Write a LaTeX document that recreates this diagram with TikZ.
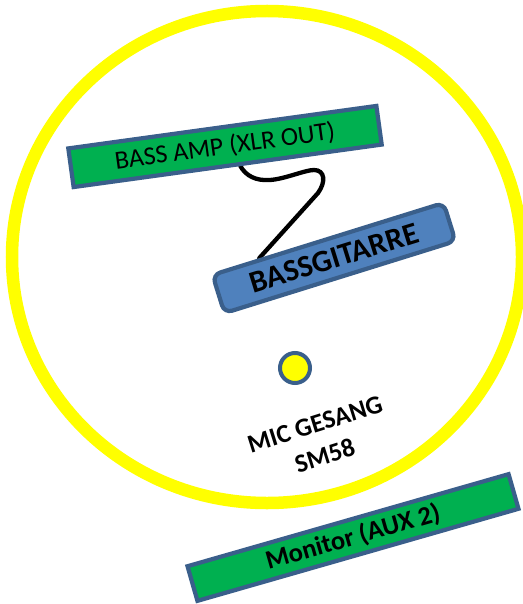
\documentclass[tikz,border=0pt]{standalone}
\usepackage{fontspec}
\setmainfont{Carlito}
\usetikzlibrary{calc,backgrounds}
\definecolor{ringyellow}{HTML}{FFFF00}
\definecolor{boxgreen}{HTML}{00B050}
\definecolor{boxblue}{HTML}{4F81BD}
\definecolor{edgeblue}{HTML}{3A5F8B}
\begin{document}
\begin{tikzpicture}[x=1pt,y=-1pt,
  ring/.style={draw=ringyellow,line width=12.5pt},
  greenbox/.style={draw=edgeblue,fill=boxgreen,line width=4.2pt,inner sep=0pt},
  bluebox/.style={draw=edgeblue,fill=boxblue,line width=4.2pt,rounded corners=8pt,inner sep=0pt},
  cable/.style={draw=black,line width=4.3pt,line cap=round},
  micdot/.style={circle,draw=edgeblue,fill=ringyellow,line width=4pt,minimum size=30pt,inner sep=0pt},
  lbl/.style={font=\fontsize{26}{33}\selectfont\bfseries,align=center}]
\useasboundingbox (0,0) rectangle (522,604);
\draw[ring] (267,257) ellipse [x radius=255, y radius=246];
\node[greenbox, minimum width=311pt, minimum height=39pt, rotate=7.85,
      font=\fontsize{26}{31}\selectfont] (amp) at (225,146.5) {BASS AMP (XLR OUT)};
\node[bluebox, minimum width=242pt, minimum height=40pt, rotate=17.3,
      font=\fontsize{31}{36}\selectfont\bfseries] (gtr) at (334,258) {BASSGITARRE};
\node[micdot] (mic) at (295,368) {};
\node[lbl, rotate=17.5] (miclbl) at (320,440) {MIC GESANG\\SM58};
\node[greenbox, minimum width=334pt, minimum height=36pt, rotate=16,
      font=\fontsize{26.5}{31}\selectfont\bfseries] (mon) at (353,537.5) {Monitor (AUX 2)};
\begin{scope}[on background layer]
\draw[cable] ($(amp.south)!0.08!(amp.south east)$) .. controls (246,176) and (256,181) .. (270,180)
  .. controls (285,179) and (305,170) .. (314,170)
  .. controls (325,170) and (326,182) .. (318,193)
  -- ($(gtr.north)!0.58!(gtr.north west)$);
\end{scope}
\end{tikzpicture}
\end{document}
